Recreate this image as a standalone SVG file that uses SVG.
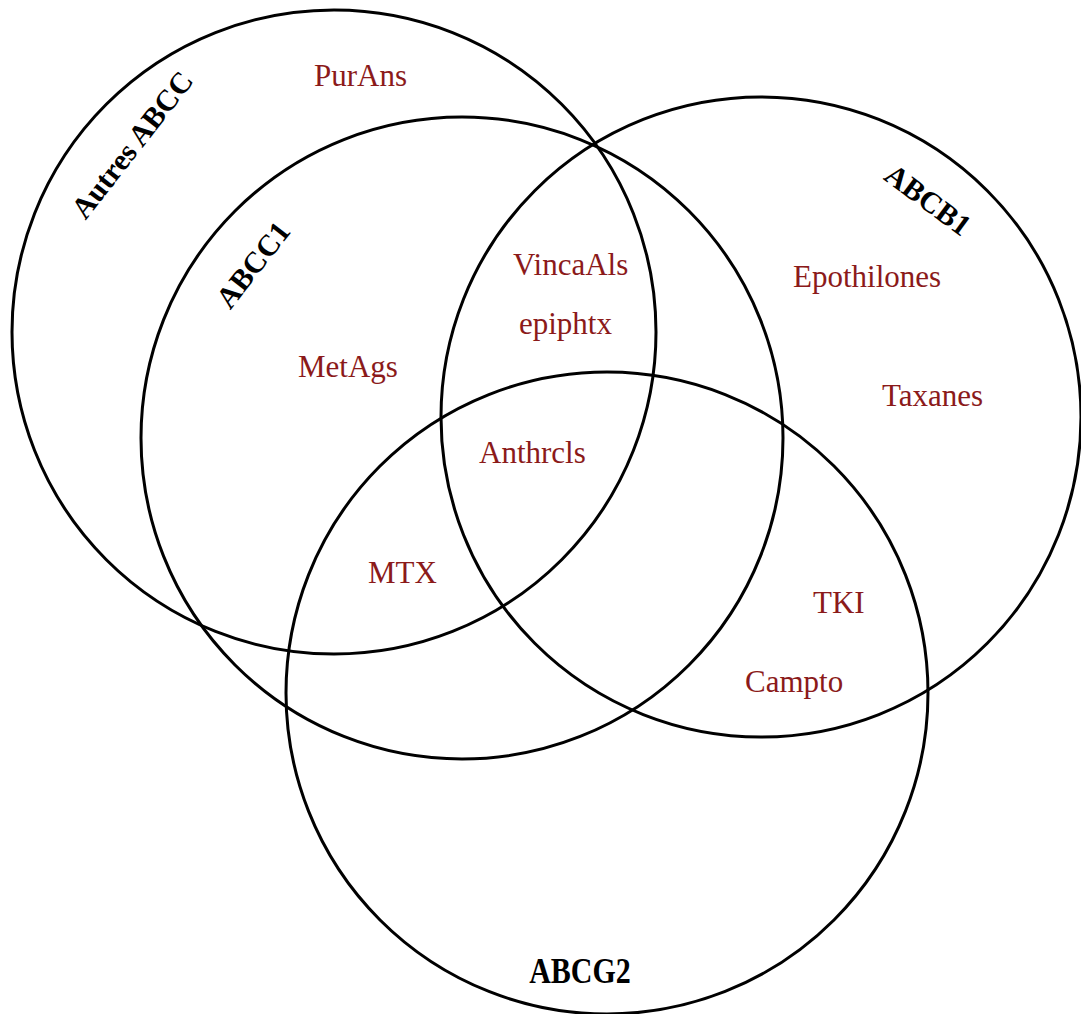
<svg xmlns="http://www.w3.org/2000/svg" width="1081" height="1014" viewBox="0 0 1081 1014">
<style>
.set{fill:none;stroke:#000;stroke-width:3}
.lbl{font-family:"Liberation Serif","Times New Roman",serif;font-size:30px;font-weight:bold;fill:#000}
.drug{font-family:"Liberation Serif","Times New Roman",serif;font-size:31px;fill:#8B1A1A}
</style>
<rect width="1081" height="1014" fill="#fff"/>
<g id="autres-abcc">
<circle class="set" cx="334" cy="332" r="322"/>
<text class="lbl" text-anchor="middle" transform="translate(140,151) rotate(-52)">Autres ABCC</text>
</g>
<g id="abcc1">
<circle class="set" cx="462" cy="438" r="321"/>
<text class="lbl" text-anchor="middle" transform="translate(261,271) rotate(-52)">ABCC1</text>
</g>
<g id="abcb1">
<circle class="set" cx="761" cy="417" r="320"/>
<text class="lbl" text-anchor="middle" transform="translate(922,208) rotate(36.5)">ABCB1</text>
</g>
<g id="abcg2">
<circle class="set" cx="607" cy="693" r="321"/>
<text class="lbl" text-anchor="middle" transform="translate(580,983) scale(1,1.2)">ABCG2</text>
</g>
<g id="drugs">
<text class="drug" x="314" y="86">PurAns</text>
<text class="drug" x="513" y="275">VincaAls</text>
<text class="drug" x="519" y="334">epiphtx</text>
<text class="drug" x="298" y="377">MetAgs</text>
<text class="drug" x="479" y="463">Anthrcls</text>
<text class="drug" x="368" y="583">MTX</text>
<text class="drug" x="793" y="287">Epothilones</text>
<text class="drug" x="882" y="406">Taxanes</text>
<text class="drug" x="813" y="613">TKI</text>
<text class="drug" x="745" y="692">Campto</text>
</g>
<g id="connectors"></g>
</svg>
